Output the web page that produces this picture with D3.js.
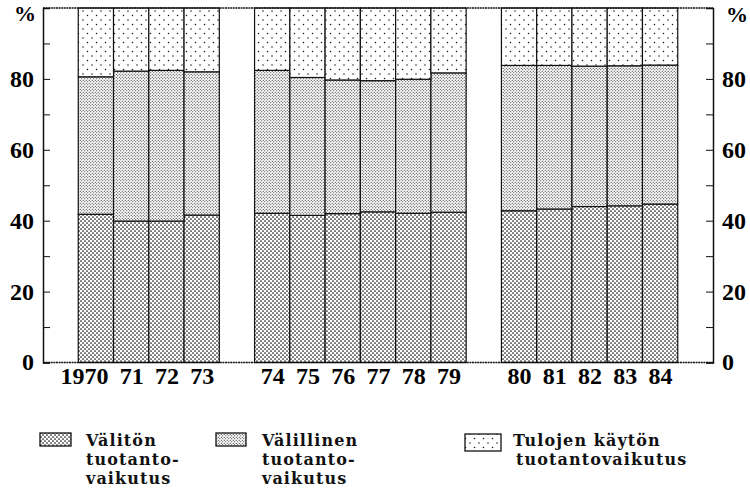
<!DOCTYPE html>
<html><head><meta charset="utf-8">
<script src="https://cdn.jsdelivr.net/npm/d3@7"></script>
<style>html,body{margin:0;padding:0;background:#fff;}</style>
</head><body>
<svg id="chart" width="750" height="491"></svg>
<script>
// ---- data ----
const years = ["1970","71","72","73","74","75","76","77","78","79","80","81","82","83","84"];
const slots = ["g0","1970","71","72","73","g1","74","75","76","77","78","79","g2","80","81","82","83","84","g3"];
const direct   = [41.8,39.9,39.9,41.6, 42.1,41.5,42.0,42.5,42.1,42.4, 42.8,43.3,44.0,44.2,44.7];
const indirect = [38.8,42.3,42.5,40.4, 40.3,38.9,37.7,37.0,37.8,39.3, 41.0,40.5,39.6,39.5,39.2];
const income   = direct.map((d,i)=>+(100-d-indirect[i]).toFixed(1));
const seriesKeys = ["direct","indirect","income"];
const legendLabels = [["Välitön","tuotanto-","vaikutus"],["Välillinen","tuotanto-","vaikutus"],["Tulojen käytön","tuotantovaikutus"]];
const yTicks = [0,20,40,60,80];
const yMinor = [0,10,20,30,40,50,60,70,80,90];

const svg = d3.select("#chart");
const mLeft = 43, mRight = 713, mTop = 8, mBottom = 362.5;

// patterns
const defs = svg.append("defs");
function dotPattern(id, size, dots, r, bg){
  const p = defs.append("pattern").attr("id",id).attr("patternUnits","userSpaceOnUse")
    .attr("width",size).attr("height",size);
  p.append("rect").attr("width",size).attr("height",size).attr("fill",bg);
  dots.forEach(([cx,cy])=>p.append("circle").attr("cx",cx).attr("cy",cy).attr("r",r).attr("fill","#111"));
}
dotPattern("pDirect", 4, [[1,1],[3,3]], 0.85, "#fff");
dotPattern("pIndirect", 3, [[0.75,0.75],[2.25,2.25]], 0.55, "#fff");
dotPattern("pIncome", 9, [[2,2],[6.5,6.5]], 0.75, "#fff");
const fills = {direct:"url(#pDirect)", indirect:"url(#pIndirect)", income:"url(#pIncome)"};

const x = d3.scaleBand().domain(slots).range([mLeft,mRight]).padding(0);
const y = d3.scaleLinear().domain([0,100]).range([mBottom,mTop]);

const rows = years.map((yr,i)=>({year:yr, direct:direct[i], indirect:indirect[i], income:income[i]}));
const stacked = d3.stack().keys(seriesKeys)(rows);

svg.append("g").selectAll("g").data(stacked).join("g")
  .attr("fill", d=>fills[d.key])
  .selectAll("rect").data(d=>d).join("rect")
  .attr("x", d=>x(d.data.year))
  .attr("width", x.bandwidth())
  .attr("y", d=>y(d[1]))
  .attr("height", d=>y(d[0])-y(d[1]))
  .attr("stroke","#111").attr("stroke-width",1.2);

// frame
const fr = svg.append("g").attr("stroke","#111").attr("fill","none");
fr.append("line").attr("x1",mLeft).attr("x2",mRight).attr("y1",mTop).attr("y2",mTop).attr("stroke-width",1.3).attr("stroke-dasharray","2,0.6");
fr.append("line").attr("x1",mLeft).attr("x2",mRight).attr("y1",mBottom).attr("y2",mBottom).attr("stroke-width",1.3).attr("stroke-dasharray","2,0.6");

// y axes
const axL = d3.axisRight(y).tickValues(yMinor).tickSize(7).tickFormat("");
const axR = d3.axisLeft(y).tickValues(yMinor).tickSize(7).tickFormat("");
const gL = svg.append("g").attr("transform",`translate(${mLeft},0)`).call(axL);
const gR = svg.append("g").attr("transform",`translate(${mRight},0)`).call(axR);
[gL,gR].forEach(g=>{g.select(".domain").attr("stroke","#111").attr("stroke-width",1.5); g.selectAll(".tick line").attr("stroke","#111").attr("stroke-width",1);});

const numFont = "'Liberation Serif', 'Times New Roman', serif";
svg.append("g").selectAll("text").data(yTicks).join("text")
  .attr("x", mLeft-9).attr("y", d=>y(d)).attr("dy","0.33em")
  .attr("text-anchor","end").attr("font-family",numFont).attr("font-weight","bold").attr("font-size",24)
  .text(d=>d);
svg.append("g").selectAll("text").data(yTicks).join("text")
  .attr("x", mRight+9).attr("y", d=>y(d)).attr("dy","0.33em")
  .attr("text-anchor","start").attr("font-family",numFont).attr("font-weight","bold").attr("font-size",24)
  .text(d=>d);
svg.append("text").attr("x",25).attr("y",21).attr("text-anchor","middle").attr("font-family",numFont).attr("font-weight","bold").attr("font-size",22).text("%");
svg.append("text").attr("x",737).attr("y",22).attr("text-anchor","middle").attr("font-family",numFont).attr("font-weight","bold").attr("font-size",22).text("%");

// x labels
svg.append("g").selectAll("text").data(years).join("text")
  .attr("x", d=>x(d)+x.bandwidth()/2+12.5).attr("y", 384)
  .attr("text-anchor","end").attr("font-family",numFont).attr("font-weight","bold").attr("font-size",24)
  .text(d=>d);

// legend
const legFont = "'DejaVu Serif', serif";
const legPos = [{sx:40,sw:31,sy:433,sh:13,tx:86,ind:0},{sx:216,sw:30,sy:433,sh:13,tx:262,ind:0},{sx:465,sw:36,sy:434,sh:17,tx:513,ind:3}];
const leg = svg.append("g");
seriesKeys.forEach((k,i)=>{
  const p = legPos[i];
  leg.append("rect").attr("x",p.sx).attr("y",p.sy).attr("width",p.sw).attr("height",p.sh)
    .attr("fill",fills[k]).attr("stroke","#111").attr("stroke-width",1.3);
  legendLabels[i].forEach((t,j)=>{
    leg.append("text").attr("x",p.tx+(j>0?p.ind:0)).attr("y",446+j*18.8)
      .attr("font-family",legFont).attr("font-weight","bold").attr("font-size",16)
      .attr("letter-spacing",1.1).attr("fill","#111").text(t);
  });
});
</script>
</body></html>
